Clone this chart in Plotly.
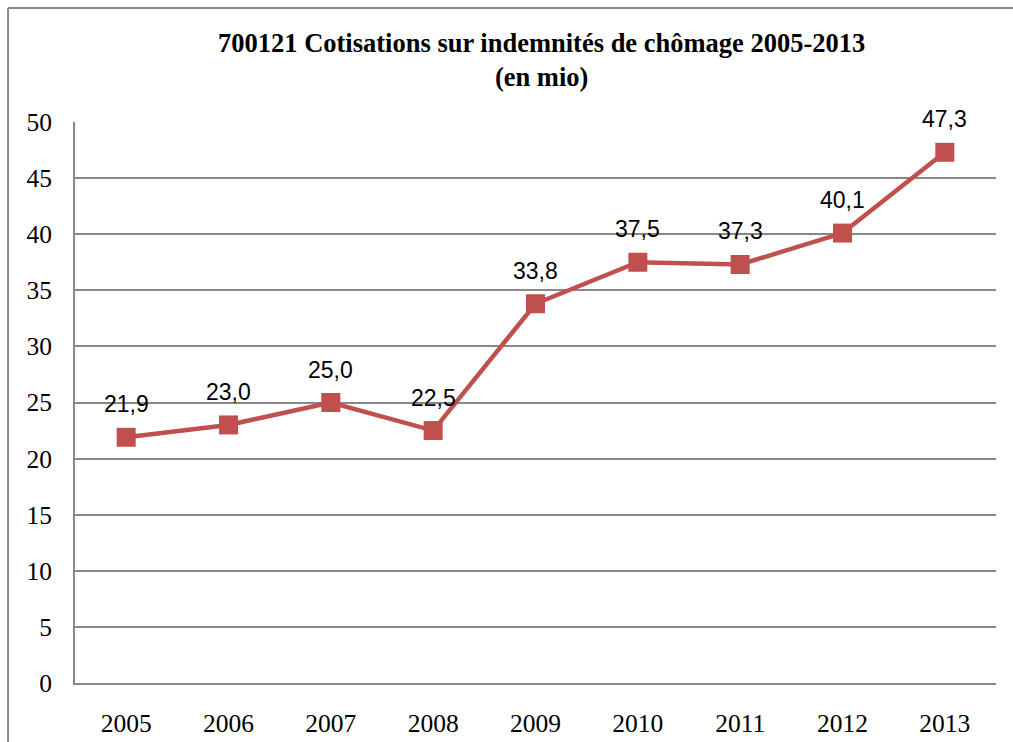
import plotly.graph_objects as go

years = ["2005", "2006", "2007", "2008", "2009", "2010", "2011", "2012", "2013"]
values = [21.9, 23.0, 25.0, 22.5, 33.8, 37.5, 37.3, 40.1, 47.3]
labels = ["21,9", "23,0", "25,0", "22,5", "33,8", "37,5", "37,3", "40,1", "47,3"]
title_text = "<b>700121 Cotisations sur indemnités de chômage 2005-2013<br>(en mio)</b>"

RED = "#C0504D"
GRID = "#888888"
SERIF = "Liberation Serif, Times New Roman, serif"
SANS = "Liberation Sans, Arial, sans-serif"

fig = go.Figure()
fig.add_trace(go.Scatter(
    x=years, y=values, mode="lines+markers",
    line=dict(color=RED, width=4.5),
    marker=dict(symbol="square", size=19, color=RED),
    hoverinfo="skip", showlegend=False,
))

for i, (y, t) in enumerate(zip(values, labels)):
    fig.add_annotation(x=i, y=y, xref="x", yref="y", text=t, showarrow=False, yshift=33,
                       font=dict(family=SANS, size=23, color="black"))

fig.add_annotation(x=0.507, y=1.1105, xref="paper", yref="paper", text=title_text,
                   showarrow=False, xanchor="center", yanchor="middle",
                   font=dict(family=SERIF, size=26.5, color="black"))

# outer chart frame (left and top edges visible)
fig.add_shape(type="line", xref="paper", yref="paper",
              x0=-0.0727, y0=1.2032, x1=1.03, y1=1.2032,
              line=dict(color="#8a8a8a", width=2))
fig.add_shape(type="line", xref="paper", yref="paper",
              x0=-0.0727, y0=-0.12, x1=-0.0727, y1=1.2032,
              line=dict(color="#8a8a8a", width=2))

fig.update_layout(
    width=1013, height=742,
    margin=dict(l=75, r=17, t=122, b=59),
    paper_bgcolor="white", plot_bgcolor="white",
    font=dict(family=SERIF, size=25, color="black"),
    xaxis=dict(type="category", range=[-0.5, 8.5], showgrid=False,
               showline=True, linecolor=GRID, linewidth=2, automargin=False,
               ticks="", ticklabelstandoff=16,
               tickfont=dict(family=SERIF, size=25.5)),
    yaxis=dict(range=[0, 50], dtick=5, showgrid=True, gridcolor=GRID, gridwidth=1.5,
               showline=True, linecolor=GRID, linewidth=2, zeroline=False, automargin=False,
               ticks="", ticklabelstandoff=16,
               tickfont=dict(family=SERIF, size=25.5)),
)

fig.write_html("out.html",
               post_script="document.body.style.margin='0';document.body.style.overflow='hidden';document.documentElement.style.overflow='hidden';",
               config={"displayModeBar": False})
